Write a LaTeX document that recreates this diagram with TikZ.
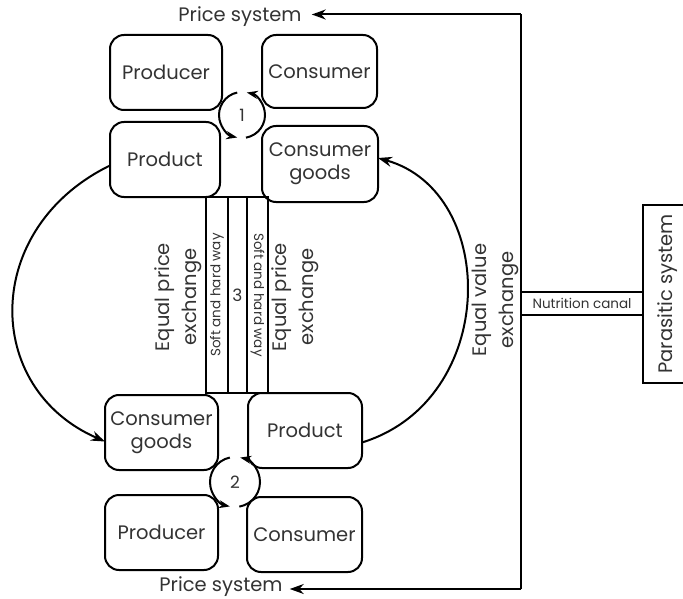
\documentclass[tikz,border=0pt]{standalone}
\usepackage{fontspec}
\setmainfont{Poppins}
\usetikzlibrary{arrows.meta}
\begin{document}
\begin{tikzpicture}[x=1pt,y=-1pt,
  box/.style={draw, rounded corners=14pt, line width=2pt, inner sep=0pt, outer sep=0pt, align=center, font=\fontsize{19.5}{23}\selectfont, text=black!80},
  lbl/.style={font=\fontsize{19.5}{27}\selectfont, align=center, text=black!80, inner sep=0pt},
  small/.style={font=\fontsize{13.5}{15}\selectfont, text=black!80},
  bar/.style={draw, line width=1.6pt, inner sep=0pt, outer sep=0pt},
  ln/.style={line width=2pt},
  arr/.style={-{Stealth[length=14pt,width=10pt]}, line width=2pt},
  carr/.style={-{Stealth[length=11pt,width=8pt]}, line width=2pt},
  cir/.style={circle, inner sep=0pt, outer sep=0pt, font=\fontsize{17}{20}\selectfont, text=black!80}]
\useasboundingbox (0,0) rectangle (683,599);
\fill[white] (0,0) rectangle (683,599);
% top group
\node[box, minimum width=112pt, minimum height=75pt] (prodT) at (166,72.5) {Producer};
\node[box, minimum width=115pt, minimum height=73pt] (consT) at (319.5,71.5) {Consumer};
\node[box, minimum width=110pt, minimum height=75pt] (productT) at (165,159.5) {Product};
\node[box, minimum width=116pt, minimum height=76pt] (cgoodsT) at (320,164) {Consumer\\goods};
\node[cir, minimum size=46pt] (c1) at (242,115) {1};
% bottom group
\node[box, minimum width=113pt, minimum height=75pt] (cgoodsB) at (161.5,432.5) {Consumer\\goods};
\node[box, minimum width=114pt, minimum height=75pt] (productB) at (305,430.5) {Product};
\node[box, minimum width=113pt, minimum height=75pt] (prodB) at (161.5,532.5) {Producer};
\node[box, minimum width=115pt, minimum height=75pt] (consB) at (304.5,534.5) {Consumer};
\node[cir, minimum size=50pt] (c2) at (235,482) {2};
% circle arrows
\begin{scope}[y=1pt]
\draw[carr] (c1.-80) arc[start angle=-80, end angle=78, radius=23pt];
\draw[carr] (c1.102) arc[start angle=102, end angle=258, radius=23pt];
\draw[carr] (c2.-80) arc[start angle=-80, end angle=78, radius=25pt];
\draw[carr] (c2.102) arc[start angle=102, end angle=258, radius=25pt];
\end{scope}
% bars
\node[bar, small, rotate=90, minimum width=196pt, minimum height=22pt] (bar1) at (217,295) {Soft and hard way};
\node[bar, minimum width=19pt, minimum height=196pt, font=\fontsize{17}{20}\selectfont, text=black!80] (bar2) at (237.5,295) {3};
\node[bar, small, rotate=-90, minimum width=196pt, minimum height=21pt] (bar3) at (257.5,295) {Soft and hard way};
% rotated labels
\node[lbl, rotate=90] (epl) at (178,297) {Equal price\\exchange};
\node[lbl, rotate=90] (epr) at (295,297) {Equal price\\exchange};
\node[lbl, rotate=90] (evx) at (495,300) {Equal value\\exchange};
% big arcs
\draw[arr] ([yshift=-6pt]productT.west) .. controls (-18,228) and (-18,388) .. ([yshift=-9pt]cgoodsB.west);
\draw[arr] ([yshift=-12pt]productB.east) .. controls (499,400) and (499,192) .. ([yshift=6pt]cgoodsT.east);
% price system
\node[lbl, inner xsep=10pt] (ps1) at (240,17) {Price system};
\node[lbl, inner xsep=7pt] (ps2) at (221,587) {Price system};
\coordinate (rt) at (521,14.5);
\coordinate (rb) at (521,589);
\draw[ln] (rt) -- (rb);
\draw[arr] (rt) -- (rt -| ps1.east);
\draw[arr] (rb) -- (rb -| ps2.east);
% nutrition canal and parasitic system
\node[draw, line width=2pt, small, inner sep=0pt, outer sep=0pt, minimum width=122pt, minimum height=23pt] (nc) at (582,303.5) {Nutrition canal};
\draw[ln] (690,205) -- (643,205) -- (643,383) -- (690,383);
\node[lbl, rotate=90] (para) at (668,294) {Parasitic system};
\end{tikzpicture}
\end{document}
